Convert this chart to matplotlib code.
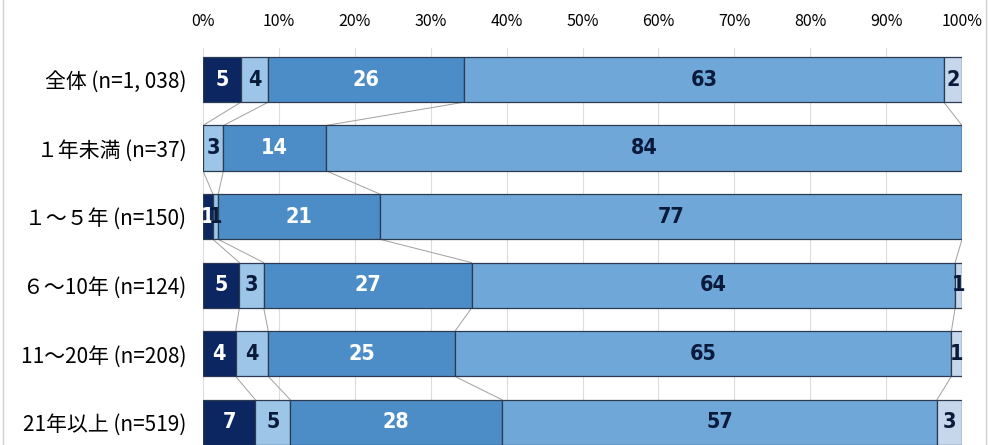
import matplotlib
matplotlib.use("Agg")
import matplotlib.pyplot as plt
from matplotlib.lines import Line2D

plt.rcParams['font.family'] = ['Noto Sans CJK JP', 'DejaVu Sans']

categories = ["全体 (n=1, 038)", "１年未満 (n=37)", "１～５年 (n=150)",
              "６～10年 (n=124)", "11～20年 (n=208)", "21年以上 (n=519)"]

# percentages per segment (left to right)
seg1 = [5.0, 0.0, 1.3, 4.8, 4.3, 6.9]
seg2 = [3.6, 2.7, 0.7, 3.2, 4.3, 4.6]
seg3 = [25.8, 13.5, 21.3, 27.4, 24.6, 27.9]
seg4 = [63.2, 83.8, 76.7, 63.7, 65.4, 57.3]
seg5 = [2.4, 0.0, 0.0, 0.9, 1.4, 3.3]

ticks = [0, 10, 20, 30, 40, 50, 60, 70, 80, 90, 100]

colors = ["#0b2660", "#9cc5e8", "#4c8dc8", "#70a7d9", "#c6d7ec"]
txt_colors = ["white", "#0a1a3a", "white", "#0a1a3a", "#0a1a3a"]

fig = plt.figure(figsize=(9.9, 4.45), dpi=100)
ax = fig.add_axes([203/990, 0, 759/990, (445-48)/445])

segs = [seg1, seg2, seg3, seg4, seg5]
h = 0.66
left = [0.0]*len(categories)
bounds = []
for k, s in enumerate(segs):
    ax.barh(range(len(categories)), s, left=left, height=h, color=colors[k],
            edgecolor="#2c3b50", linewidth=0.9, zorder=3)
    for i, v in enumerate(s):
        if v > 0:
            ax.text(left[i] + v/2, i, str(int(v + 0.5)), ha="center", va="center",
                    color=txt_colors[k], fontsize=15.5, fontweight="bold",
                    family="DejaVu Sans", fontstretch="condensed", zorder=4)
    left = [a + b for a, b in zip(left, s)]
    bounds.append(list(left))

# connecting lines between bars
for b in bounds[:-1]:
    for i in range(len(categories)-1):
        ax.plot([b[i], b[i+1]], [i + h/2, i + 1 - h/2], color="#a0a0a0", lw=0.7, zorder=2)

ax.set_xlim(0, 100)
ax.set_ylim(5 + 0.33, -0.46)
ax.set_xticks(ticks)
ax.set_xticklabels([f"{t}%" for t in ticks], fontsize=11.5)
ax.xaxis.tick_top()
ax.tick_params(axis="x", length=0, pad=13)
ax.set_yticks(range(len(categories)))
ax.set_yticklabels(categories, fontsize=15)
ax.tick_params(axis="y", length=0, pad=12)
ax.grid(axis="x", color="#dcdcdc", lw=0.8, zorder=0)
for sp in ax.spines.values():
    sp.set_visible(False)

# outer frame lines
fig.add_artist(Line2D([3/990, 3/990], [0, 1], color="#d0d0d0", lw=1))
fig.add_artist(Line2D([986/990, 986/990], [0, 1], color="#d0d0d0", lw=1))

fig.savefig("out.png", dpi=100)
